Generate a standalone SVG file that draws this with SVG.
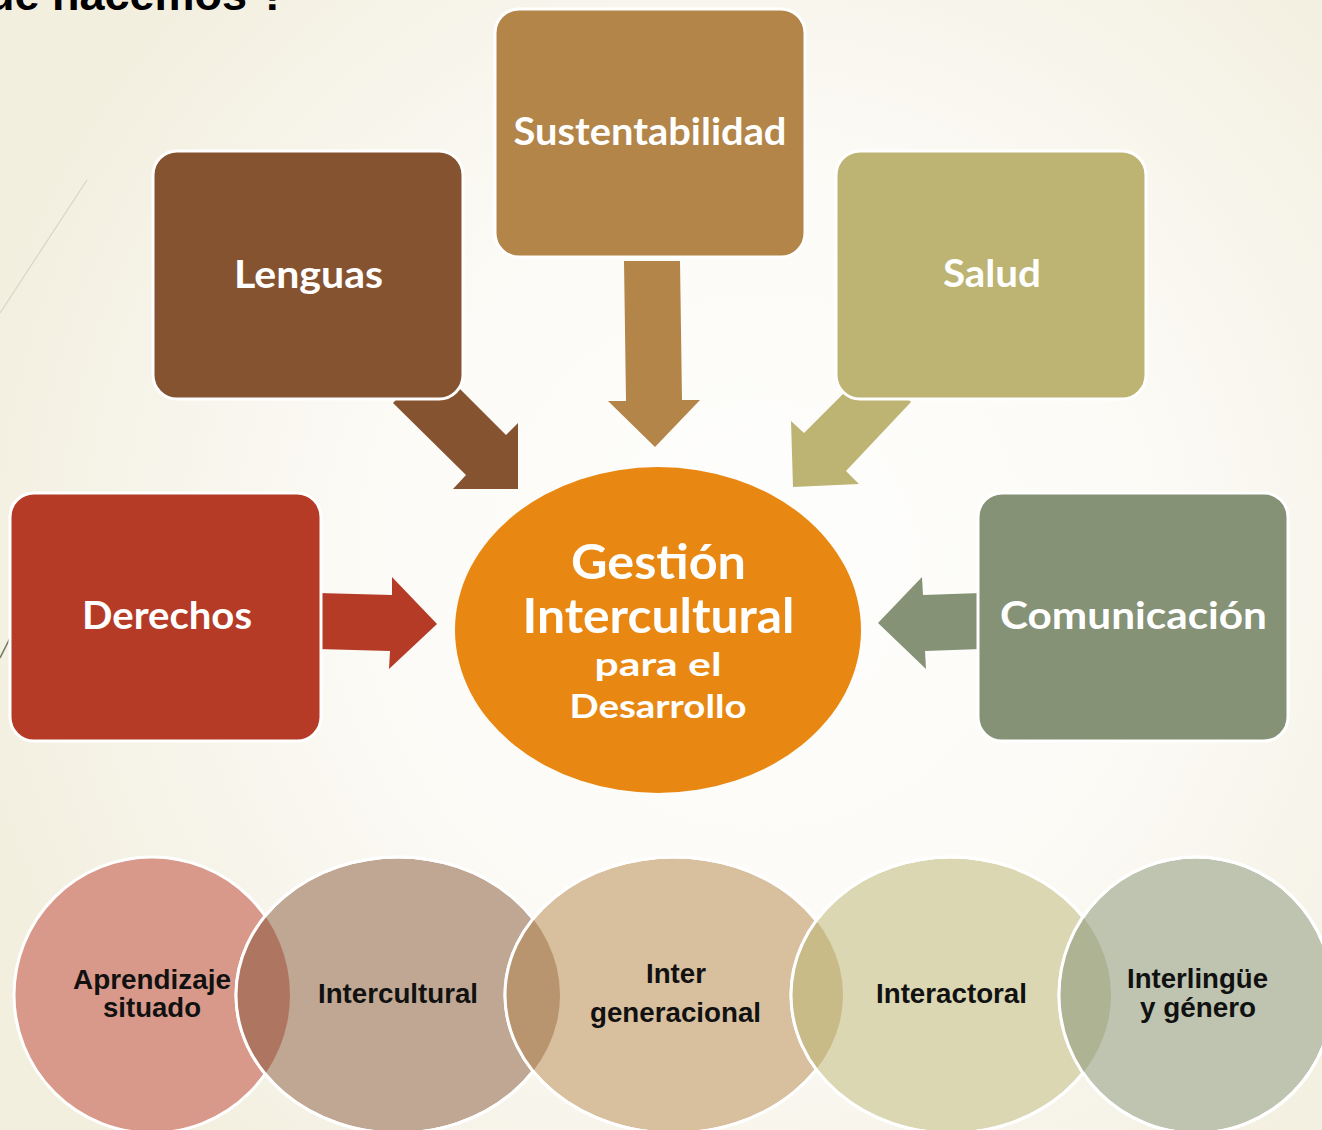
<svg xmlns="http://www.w3.org/2000/svg" width="1322" height="1130" viewBox="0 0 1322 1130">
<defs>
<radialGradient id="bg" cx="760" cy="560" r="820" gradientUnits="userSpaceOnUse">
<stop offset="0" stop-color="#fefefd"/>
<stop offset="0.45" stop-color="#fcfbf7"/>
<stop offset="1" stop-color="#f2efdf"/>
</radialGradient>
<clipPath id="k2"><ellipse cx="398" cy="995" rx="162" ry="138"/></clipPath>
<clipPath id="k3"><ellipse cx="674" cy="995" rx="169" ry="138"/></clipPath>
<clipPath id="k4"><ellipse cx="951" cy="995" rx="160" ry="138"/></clipPath>
<clipPath id="k5"><ellipse cx="1196" cy="995" rx="137" ry="138"/></clipPath>
</defs>
<style>
.box{stroke:#ffffff;stroke-width:3}
.lbl{font-family:Lato,"Open Sans","Liberation Sans",sans-serif;font-weight:700;fill:#ffffff;text-anchor:middle}
.big{font-size:38px}
.ctr{font-size:47px}
.ctr2{font-size:33px}
.circ{stroke:#ffffff;stroke-width:3}
.ring{fill:none;stroke:#ffffff;stroke-width:3}
.ct{font-family:"Liberation Sans Narrow","Liberation Sans",Arial,sans-serif;font-weight:700;font-size:28px;fill:#111111;text-anchor:middle}
</style>
<rect x="0" y="0" width="1322" height="1130" fill="url(#bg)"/>
<line x1="87" y1="180" x2="0" y2="313" stroke="#d6d6c6" stroke-width="1.2"/>
<line x1="10" y1="638" x2="0" y2="658" stroke="#6e7b5c" stroke-width="1.5"/>
<text x="287" y="10" font-family="'Liberation Sans',Arial,sans-serif" font-weight="700" font-size="45" fill="#000000" text-anchor="end">¿Qué hacemos ?</text>

<g id="connectors">
<polygon fill="#865331" points="393,403 433,362 506,435 518,423 518,489 453,489 466,475"/>
<polygon fill="#b38548" points="624,261 680,261 682,400 700,400 655,447 608,401 626,401"/>
<polygon fill="#bdb474" points="911,402 873,364 804,433 791,421 793,487 859,484 846,471"/>
<polygon fill="#b53b27" points="318,593 392,595 392,577 437,624 389,669 390,651 318,649"/>
<polygon fill="#859276" points="981,593 923,595 922,577 878,623 926,669 925,651 981,649"/>
</g>

<g id="node-lenguas">
<rect class="box" x="153" y="151" width="310" height="248" rx="24" fill="#865331"/>
<text class="lbl big" x="308.5" y="288" textLength="149" lengthAdjust="spacingAndGlyphs">Lenguas</text>
</g>
<g id="node-sustentabilidad">
<rect class="box" x="495" y="9" width="310" height="248" rx="24" fill="#b38548"/>
<text class="lbl big" x="650" y="145" textLength="273" lengthAdjust="spacingAndGlyphs">Sustentabilidad</text>
</g>
<g id="node-salud">
<rect class="box" x="836" y="151" width="310" height="248" rx="24" fill="#bdb474"/>
<text class="lbl big" x="992" y="287" textLength="98" lengthAdjust="spacingAndGlyphs">Salud</text>
</g>
<g id="node-derechos">
<rect class="box" x="10" y="493" width="311" height="248" rx="24" fill="#b53b27"/>
<text class="lbl big" x="167" y="629" textLength="170" lengthAdjust="spacingAndGlyphs">Derechos</text>
</g>
<g id="node-comunicacion">
<rect class="box" x="978" y="493" width="310" height="248" rx="24" fill="#859276"/>
<text class="lbl big" x="1133.5" y="629" textLength="267" lengthAdjust="spacingAndGlyphs">Comunicación</text>
</g>
<g id="node-gestion">
<ellipse cx="658" cy="630" rx="203" ry="163" fill="#e88813"/>
<text class="lbl ctr" x="658.5" y="579" textLength="175" lengthAdjust="spacingAndGlyphs">Gestión</text>
<text class="lbl ctr" x="658.5" y="633" textLength="272" lengthAdjust="spacingAndGlyphs">Intercultural</text>
<text class="lbl ctr2" x="658" y="676" textLength="127" lengthAdjust="spacingAndGlyphs">para el</text>
<text class="lbl ctr2" x="658" y="718" textLength="177" lengthAdjust="spacingAndGlyphs">Desarrollo</text>
</g>

<g id="node-aprendizaje">
<ellipse class="circ" cx="152" cy="995" rx="138" ry="138" fill="#d9998a"/>
</g>
<g id="node-intercultural">
<ellipse class="circ" cx="398" cy="995" rx="162" ry="138" fill="#c0a793"/>
<ellipse cx="152" cy="995" rx="138" ry="138" fill="#ae7660" clip-path="url(#k2)"/>
<ellipse class="ring" cx="398" cy="995" rx="162" ry="138"/>
</g>
<g id="node-intergeneracional">
<ellipse class="circ" cx="674" cy="995" rx="169" ry="138" fill="#d8bf9e"/>
<ellipse cx="398" cy="995" rx="162" ry="138" fill="#b8956e" clip-path="url(#k3)"/>
<ellipse class="ring" cx="674" cy="995" rx="169" ry="138"/>
</g>
<g id="node-interactoral">
<ellipse class="circ" cx="951" cy="995" rx="160" ry="138" fill="#dbd7b2"/>
<ellipse cx="674" cy="995" rx="169" ry="138" fill="#c8bb88" clip-path="url(#k4)"/>
<ellipse class="ring" cx="951" cy="995" rx="160" ry="138"/>
</g>
<g id="node-interlingue">
<ellipse class="circ" cx="1196" cy="995" rx="137" ry="138" fill="#bec4b0"/>
<ellipse cx="951" cy="995" rx="160" ry="138" fill="#adb393" clip-path="url(#k5)"/>
<ellipse class="ring" cx="1196" cy="995" rx="137" ry="138"/>
</g>
<g id="circle-labels">
<text class="ct" x="152" y="989" textLength="158" lengthAdjust="spacingAndGlyphs">Aprendizaje</text>
<text class="ct" x="152" y="1017" textLength="98" lengthAdjust="spacingAndGlyphs">situado</text>
<text class="ct" x="398" y="1003" textLength="160" lengthAdjust="spacingAndGlyphs">Intercultural</text>
<text class="ct" x="676" y="983" textLength="60" lengthAdjust="spacingAndGlyphs">Inter</text>
<text class="ct" x="675.5" y="1022" textLength="171" lengthAdjust="spacingAndGlyphs">generacional</text>
<text class="ct" x="951.5" y="1003" textLength="151" lengthAdjust="spacingAndGlyphs">Interactoral</text>
<text class="ct" x="1197.5" y="988" textLength="141" lengthAdjust="spacingAndGlyphs">Interlingüe</text>
<text class="ct" x="1198" y="1017" textLength="116" lengthAdjust="spacingAndGlyphs">y género</text>
</g>
</svg>
